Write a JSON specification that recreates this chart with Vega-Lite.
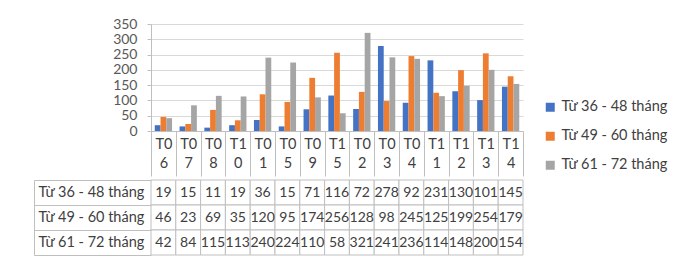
{
  "$schema": "https://vega.github.io/schema/vega-lite/v6.json",
  "padding": {"left": 33, "top": 17, "right": 0, "bottom": 0},
  "background": "white",
  "config": {"font": "Lato", "view": {"stroke": null}},
  "data": {"values": [
    {"m":"T06","s":"Từ 36 - 48 tháng","v":19},{"m":"T07","s":"Từ 36 - 48 tháng","v":15},{"m":"T08","s":"Từ 36 - 48 tháng","v":11},{"m":"T10","s":"Từ 36 - 48 tháng","v":19},{"m":"T01","s":"Từ 36 - 48 tháng","v":36},{"m":"T05","s":"Từ 36 - 48 tháng","v":15},{"m":"T09","s":"Từ 36 - 48 tháng","v":71},{"m":"T15","s":"Từ 36 - 48 tháng","v":116},{"m":"T02","s":"Từ 36 - 48 tháng","v":72},{"m":"T03","s":"Từ 36 - 48 tháng","v":278},{"m":"T04","s":"Từ 36 - 48 tháng","v":92},{"m":"T11","s":"Từ 36 - 48 tháng","v":231},{"m":"T12","s":"Từ 36 - 48 tháng","v":130},{"m":"T13","s":"Từ 36 - 48 tháng","v":101},{"m":"T14","s":"Từ 36 - 48 tháng","v":145},
    {"m":"T06","s":"Từ 49 - 60 tháng","v":46},{"m":"T07","s":"Từ 49 - 60 tháng","v":23},{"m":"T08","s":"Từ 49 - 60 tháng","v":69},{"m":"T10","s":"Từ 49 - 60 tháng","v":35},{"m":"T01","s":"Từ 49 - 60 tháng","v":120},{"m":"T05","s":"Từ 49 - 60 tháng","v":95},{"m":"T09","s":"Từ 49 - 60 tháng","v":174},{"m":"T15","s":"Từ 49 - 60 tháng","v":256},{"m":"T02","s":"Từ 49 - 60 tháng","v":128},{"m":"T03","s":"Từ 49 - 60 tháng","v":98},{"m":"T04","s":"Từ 49 - 60 tháng","v":245},{"m":"T11","s":"Từ 49 - 60 tháng","v":125},{"m":"T12","s":"Từ 49 - 60 tháng","v":199},{"m":"T13","s":"Từ 49 - 60 tháng","v":254},{"m":"T14","s":"Từ 49 - 60 tháng","v":179},
    {"m":"T06","s":"Từ 61 - 72 tháng","v":42},{"m":"T07","s":"Từ 61 - 72 tháng","v":84},{"m":"T08","s":"Từ 61 - 72 tháng","v":115},{"m":"T10","s":"Từ 61 - 72 tháng","v":113},{"m":"T01","s":"Từ 61 - 72 tháng","v":240},{"m":"T05","s":"Từ 61 - 72 tháng","v":224},{"m":"T09","s":"Từ 61 - 72 tháng","v":110},{"m":"T15","s":"Từ 61 - 72 tháng","v":58},{"m":"T02","s":"Từ 61 - 72 tháng","v":321},{"m":"T03","s":"Từ 61 - 72 tháng","v":241},{"m":"T04","s":"Từ 61 - 72 tháng","v":236},{"m":"T11","s":"Từ 61 - 72 tháng","v":114},{"m":"T12","s":"Từ 61 - 72 tháng","v":148},{"m":"T13","s":"Từ 61 - 72 tháng","v":200},{"m":"T14","s":"Từ 61 - 72 tháng","v":154}
  ]},
  "spacing": -5,
  "vconcat": [
    {
      "width": 372,
      "height": 107,
      "mark": {"type": "bar"},
      "encoding": {
        "x": {
          "field": "m", "type": "nominal",
          "sort": ["T06","T07","T08","T10","T01","T05","T09","T15","T02","T03","T04","T11","T12","T13","T14"],
          "scale": {"paddingInner": 0, "paddingOuter": 0},
          "axis": {
            "title": null, "labelAngle": 0, "tickBand": "extent", "tickSize": 45,
            "tickColor": "#bfbfbf", "domainColor": "#bfbfbf",
            "labelExpr": "[substring(datum.label,0,2), substring(datum.label,2,3)]",
            "labelLineHeight": 19, "labelPadding": -39, "labelFontSize": 14.5, "labelColor": "#404040"
          }
        },
        "xOffset": {"field": "s", "type": "nominal", "scale": {"paddingOuter": 0.65, "paddingInner": 0}},
        "y": {
          "field": "v", "type": "quantitative",
          "scale": {"domain": [0, 350], "nice": false},
          "axis": {
            "title": null, "values": [0,50,100,150,200,250,300,350], "gridColor": "#d9d9d9",
            "domainColor": "#bfbfbf", "tickColor": "#bfbfbf", "tickSize": 4, "labelPadding": 10,
            "labelFontSize": 14, "labelColor": "#595959"
          }
        },
        "color": {
          "field": "s", "type": "nominal",
          "scale": {"range": ["#4472C4", "#ED7D31", "#A5A5A5"]},
          "legend": {
            "title": null, "orient": "none", "legendX": 392, "legendY": 76,
            "symbolType": "square", "symbolSize": 81, "symbolStrokeWidth": 0,
            "labelFontSize": 14.5, "labelColor": "#404040", "rowPadding": 14
          }
        }
      }
    },
    {
      "width": 372,
      "height": 75,
      "layer": [
        {
          "mark": {"type": "rect", "fill": "white", "stroke": "#bfbfbf", "strokeWidth": 1},
          "encoding": {
            "x": {"field": "m", "type": "nominal", "sort": ["T06","T07","T08","T10","T01","T05","T09","T15","T02","T03","T04","T11","T12","T13","T14"], "scale": {"paddingInner": 0, "paddingOuter": 0}, "axis": null},
            "y": {
              "field": "s", "type": "nominal", "scale": {"paddingInner": 0, "paddingOuter": 0},
              "axis": {
                "title": null, "offset": 117, "domain": true, "domainColor": "#bfbfbf",
                "ticks": true, "tickBand": "extent", "tickSize": -117, "tickColor": "#bfbfbf",
                "labelAlign": "left", "labelPadding": 113, "labelFontSize": 14.5, "labelColor": "#404040"
              }
            }
          }
        },
        {
          "mark": {"type": "text", "fontSize": 14, "color": "#404040"},
          "encoding": {
            "x": {"field": "m", "type": "nominal", "sort": ["T06","T07","T08","T10","T01","T05","T09","T15","T02","T03","T04","T11","T12","T13","T14"]},
            "y": {"field": "s", "type": "nominal"},
            "text": {"field": "v", "type": "quantitative"}
          }
        }
      ]
    }
  ]
}
